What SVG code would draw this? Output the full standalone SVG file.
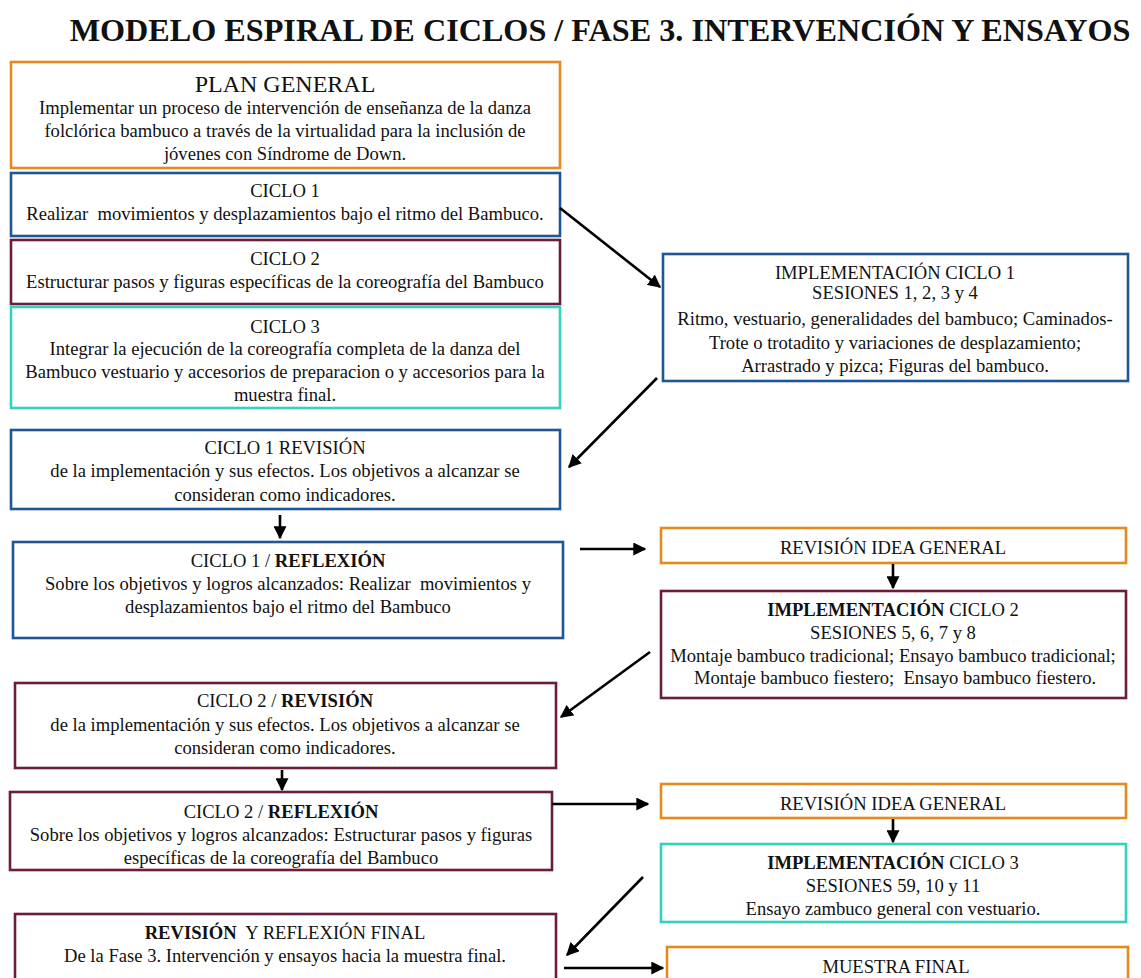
<svg xmlns="http://www.w3.org/2000/svg" width="1141" height="978" viewBox="0 0 1141 978">
<style>
text{font-family:"Liberation Serif","Times New Roman",serif;fill:#111;text-anchor:middle;font-size:18.6px;white-space:pre}
.t{font-size:32.2px;font-weight:bold}
.h{font-size:24px}
.b{font-weight:bold}
rect{fill:#fff;stroke-width:2.6}
.or{stroke:#E58A1F}
.bl{stroke:#1F5696}
.mr{stroke:#6B1C3B}
.tl{stroke:#33D1BE}
.c line{stroke:#000;stroke-width:2.6;marker-end:url(#ah)}
</style>
<defs>
<marker id="ah" viewBox="0 0 10 10" refX="9" refY="5" markerWidth="5" markerHeight="5" orient="auto" markerUnits="strokeWidth"><path d="M0,0 L10,5 L0,10 z" fill="#000"/></marker>
</defs>
<rect x="0" y="0" width="1141" height="978" style="fill:#fff;stroke:none"/>
<text class="t" x="600" y="41">MODELO ESPIRAL DE CICLOS / FASE 3. INTERVENCIÓN Y ENSAYOS</text>

<g id="plan"><rect class="or" x="11" y="62" width="549" height="106"/>
<text class="h" x="285" y="92">PLAN GENERAL</text>
<text x="285" y="114">Implementar un proceso de intervención de enseñanza de la danza</text>
<text x="285" y="137">folclórica bambuco a través de la virtualidad para la inclusión de</text>
<text x="285" y="160">jóvenes con Síndrome de Down.</text></g>

<g id="ciclo1"><rect class="bl" x="11" y="173" width="549" height="63"/>
<text x="285" y="197">CICLO 1</text>
<text x="285" y="220">Realizar  movimientos y desplazamientos bajo el ritmo del Bambuco.</text></g>

<g id="ciclo2"><rect class="mr" x="11" y="240" width="549" height="64"/>
<text x="285" y="265">CICLO 2</text>
<text x="285" y="288">Estructurar pasos y figuras específicas de la coreografía del Bambuco</text></g>

<g id="ciclo3"><rect class="tl" x="11" y="307" width="549" height="101"/>
<text x="285" y="333">CICLO 3</text>
<text x="285" y="355">Integrar la ejecución de la coreografía completa de la danza del</text>
<text x="285" y="378">Bambuco vestuario y accesorios de preparacion o y accesorios para la</text>
<text x="285" y="401">muestra final.</text></g>

<g id="impl1"><rect class="bl" x="663" y="254" width="465" height="127"/>
<text x="895" y="279">IMPLEMENTACIÓN CICLO 1</text>
<text x="895" y="299">SESIONES 1, 2, 3 y 4</text>
<text x="895" y="325">Ritmo, vestuario, generalidades del bambuco; Caminados-</text>
<text x="895" y="349">Trote o trotadito y variaciones de desplazamiento;</text>
<text x="895" y="372">Arrastrado y pizca; Figuras del bambuco.</text></g>

<g id="rev1"><rect class="bl" x="11" y="430" width="549" height="79"/>
<text x="285" y="454">CICLO 1 REVISIÓN</text>
<text x="285" y="477">de la implementación y sus efectos. Los objetivos a alcanzar se</text>
<text x="285" y="501">consideran como indicadores.</text></g>

<g id="refl1"><rect class="bl" x="13" y="542" width="550" height="96"/>
<text x="288" y="567">CICLO 1 / <tspan class="b">REFLEXIÓN</tspan></text>
<text x="288" y="590">Sobre los objetivos y logros alcanzados: Realizar  movimientos y</text>
<text x="288" y="613">desplazamientos bajo el ritmo del Bambuco</text></g>

<g id="idea1"><rect class="or" x="661" y="528" width="465" height="35"/>
<text x="893" y="554">REVISIÓN IDEA GENERAL</text></g>

<g id="impl2"><rect class="mr" x="661" y="591" width="465" height="107"/>
<text x="893" y="616"><tspan class="b">IMPLEMENTACIÓN</tspan> CICLO 2</text>
<text x="893" y="639">SESIONES 5, 6, 7 y 8</text>
<text x="893" y="662">Montaje bambuco tradicional; Ensayo bambuco tradicional;</text>
<text x="895" y="684">Montaje bambuco fiestero;  Ensayo bambuco fiestero.</text></g>

<g id="rev2"><rect class="mr" x="15" y="683" width="541" height="85"/>
<text x="285" y="707">CICLO 2 / <tspan class="b">REVISIÓN</tspan></text>
<text x="285" y="731">de la implementación y sus efectos. Los objetivos a alcanzar se</text>
<text x="285" y="754">consideran como indicadores.</text></g>

<g id="refl2"><rect class="mr" x="10" y="792" width="542" height="78"/>
<text x="281" y="818">CICLO 2 / <tspan class="b">REFLEXIÓN</tspan></text>
<text x="281" y="841">Sobre los objetivos y logros alcanzados: Estructurar pasos y figuras</text>
<text x="281" y="864">específicas de la coreografía del Bambuco</text></g>

<g id="idea2"><rect class="or" x="661" y="784" width="465" height="34"/>
<text x="893" y="810">REVISIÓN IDEA GENERAL</text></g>

<g id="impl3"><rect class="tl" x="661" y="844" width="465" height="78"/>
<text x="893" y="869"><tspan class="b">IMPLEMENTACIÓN</tspan> CICLO 3</text>
<text x="893" y="892">SESIONES 59, 10 y 11</text>
<text x="893" y="915">Ensayo zambuco general con vestuario.</text></g>

<g id="final"><rect class="mr" x="15" y="914" width="541" height="70"/>
<text x="285" y="939"><tspan class="b">REVISIÓN</tspan>  Y REFLEXIÓN FINAL</text>
<text x="285" y="962">De la Fase 3. Intervención y ensayos hacia la muestra final.</text></g>

<g id="muestra"><rect class="or" x="667" y="947" width="461" height="40"/>
<text x="896" y="973">MUESTRA FINAL</text></g>

<g id="connectors" class="c">
<line x1="560" y1="208" x2="660" y2="287"/>
<line x1="657" y1="378" x2="569" y2="467"/>
<line x1="280" y1="515" x2="280" y2="538"/>
<line x1="580" y1="549" x2="645" y2="549"/>
<line x1="893" y1="564" x2="893" y2="588"/>
<line x1="650" y1="652" x2="561" y2="717"/>
<line x1="282" y1="770" x2="282" y2="790"/>
<line x1="552" y1="804" x2="648" y2="804"/>
<line x1="893" y1="819" x2="893" y2="842"/>
<line x1="643" y1="877" x2="567" y2="955"/>
<line x1="564" y1="968" x2="663" y2="968"/>
</g>
</svg>
